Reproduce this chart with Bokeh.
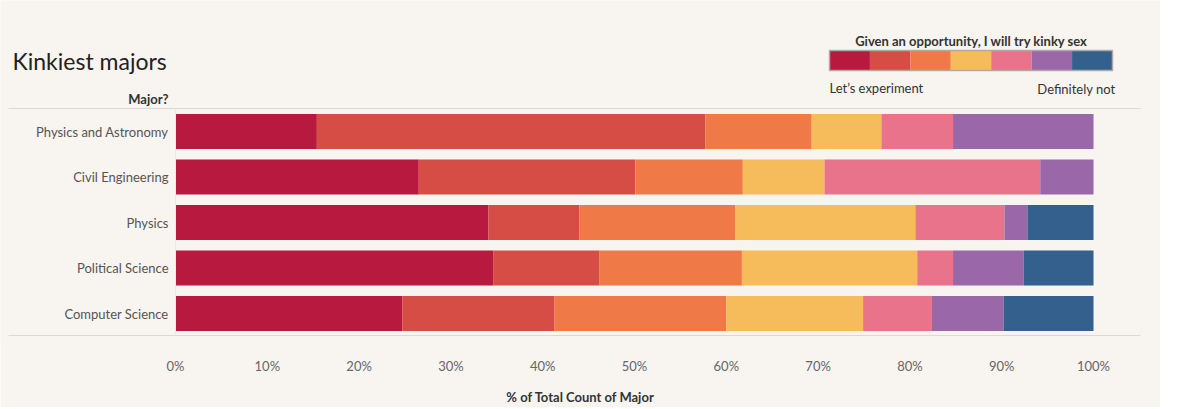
from bokeh.plotting import figure
from bokeh.models import ColumnDataSource, Range1d, NumeralTickFormatter, FixedTicker
from bokeh.core.properties import value
from bokeh.embed import file_html
from bokeh.resources import INLINE

majors = ["Physics and Astronomy", "Civil Engineering", "Physics", "Political Science", "Computer Science"]
answers = ["a1", "a2", "a3", "a4", "a5", "a6", "a7"]  # Let's experiment ... Definitely not
a1 = [15.4, 26.5, 34.1, 34.6, 24.7]
a2 = [42.3, 23.6, 9.9, 11.6, 16.6]
a3 = [11.6, 11.7, 17.0, 15.5, 18.7]
a4 = [7.6, 8.9, 19.6, 19.1, 14.9]
a5 = [7.8, 23.5, 9.7, 3.9, 7.5]
a6 = [15.3, 5.8, 2.5, 7.7, 7.8]
a7 = [0.0, 0.0, 7.2, 7.6, 9.8]
colors = ["#b8193f", "#d64d45", "#ef7a47", "#f6bb5a", "#e8738a", "#9a68a8", "#33608c"]

BG = "#f8f4f0"
FONT = value("Lato")

# pixel helpers: 0% at px 175, 100% at px 1093
def X(px):
    return (px - 175) / 918.0

row_y = [131 + 45.5 * i for i in range(len(majors))]
data = {"y": row_y}
for k, v in zip(answers, [a1, a2, a3, a4, a5, a6, a7]):
    data[k] = [x / 100.0 for x in v]
src = ColumnDataSource(data)

p = figure(frame_width=1160, frame_height=345, output_backend="svg", toolbar_location=None,
           x_range=Range1d(X(0), X(1160)), y_range=Range1d(345, 0),
           min_border_left=0, min_border_right=0, min_border_top=0, min_border_bottom=48)
p.background_fill_color = BG
p.border_fill_color = BG
p.outline_line_color = None
p.grid.visible = False
p.yaxis.visible = False

p.hbar_stack(answers, y="y", height=35, color=colors, line_color=None, source=src)

# separators
p.segment(x0=[X(8), X(8)], y0=[108, 335], x1=[X(1140), X(1140)], y1=[108, 335], line_color="#dcd8d4", line_width=1)
p.segment(x0=[X(175)], y0=[108], x1=[X(175)], y1=[335], line_color="#ece8e4", line_width=1)

# category labels
p.text(x=[X(168)] * len(majors), y=row_y, text=majors, text_align="right", text_baseline="middle",
       text_font=FONT, text_font_size="13px", text_color="#555555")
p.text(x=[X(168)], y=[98], text=["Major?"], text_align="right", text_baseline="middle",
       text_font=FONT, text_font_size="13px", text_font_style="bold", text_color="#333333")

# title
p.text(x=[X(12)], y=[60], text=["Kinkiest majors"], text_baseline="middle",
       text_font=FONT, text_font_size="23px", text_color="#222222")

# legend
p.text(x=[X(971)], y=[40], text=["Given an opportunity, I will try kinky sex"], text_align="center",
       text_baseline="middle", text_font=FONT, text_font_size="13px", text_font_style="bold", text_color="#333333")
bw = (1112 - 829) / 7.0
p.rect(x=[X(829 + bw * (i + 0.5)) for i in range(7)], y=[60] * 7, width=bw / 918.0, height=19,
       fill_color=colors, line_color=None)
p.rect(x=[X(970.5)], y=[60], width=283 / 918.0, height=20, fill_color=None, line_color="#b0aaa4", line_width=1.5)
p.text(x=[X(829)], y=[87], text=["Let\u2019s experiment"], text_baseline="middle",
       text_font=FONT, text_font_size="13px", text_color="#333333")
p.text(x=[X(1115)], y=[88], text=["Definitely not"], text_align="right", text_baseline="middle",
       text_font=FONT, text_font_size="13px", text_color="#333333")

# x axis
p.xaxis.ticker = FixedTicker(ticks=[i / 10 for i in range(11)])
p.xaxis.formatter = NumeralTickFormatter(format="0%")
p.xaxis.axis_line_color = None
p.xaxis.major_tick_line_color = None
p.xaxis.minor_tick_line_color = None
p.xaxis.major_label_text_font = "Lato"
p.xaxis.major_label_text_font_size = "13px"
p.xaxis.major_label_text_color = "#666666"
p.xaxis.major_label_standoff = 6
p.xaxis.axis_label = "% of Total Count of Major"
p.xaxis.axis_label_text_font = "Lato"
p.xaxis.axis_label_text_font_size = "13px"
p.xaxis.axis_label_text_font_style = "bold"
p.xaxis.axis_label_text_color = "#333333"
p.xaxis.axis_label_standoff = 12

open("out.html", "w").write(file_html(p, INLINE))
